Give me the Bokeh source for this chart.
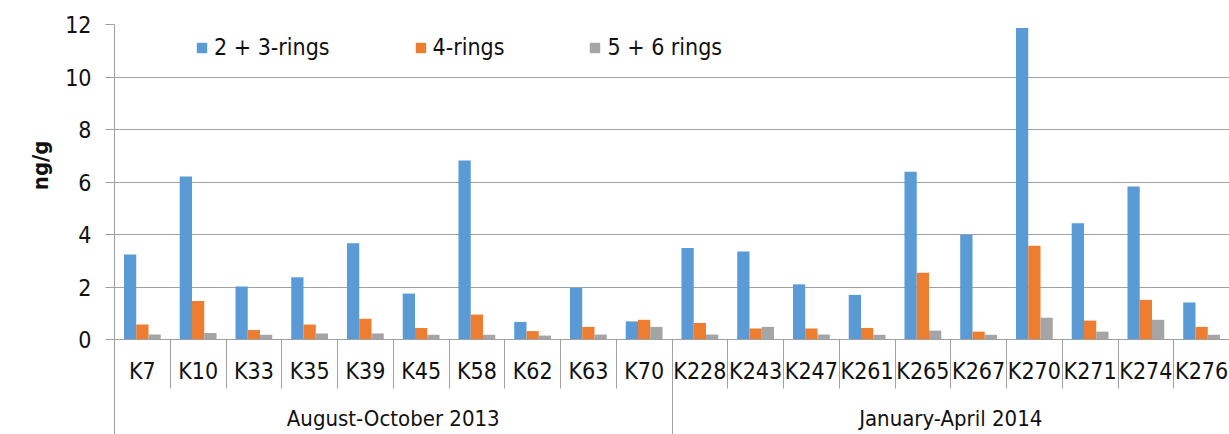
import numpy as np
from bokeh.plotting import figure
from bokeh.models import (Range1d, FixedTicker, LinearAxis, ColumnDataSource,
                          Legend, LegendItem, Title)
from bokeh.transform import dodge
from bokeh.embed import file_html
from bokeh.resources import INLINE

# ---------------- data ----------------
groups = ["August-October 2013", "January-April 2014"]
group_sizes = [10, 10]
categories = ["K7", "K10", "K33", "K35", "K39", "K45", "K58", "K62", "K63", "K70",
              "K228", "K243", "K247", "K261", "K265", "K267", "K270", "K271", "K274", "K276"]
rings_2_3 = [3.24, 6.21, 2.02, 2.37, 3.67, 1.75, 6.82, 0.67, 1.97, 0.69,
             3.49, 3.35, 2.10, 1.70, 6.39, 3.99, 11.87, 4.43, 5.83, 1.41]
rings_4 = [0.57, 1.47, 0.36, 0.57, 0.79, 0.44, 0.95, 0.32, 0.48, 0.75,
           0.63, 0.42, 0.42, 0.44, 2.54, 0.30, 3.57, 0.72, 1.51, 0.48]
rings_5_6 = [0.19, 0.25, 0.18, 0.23, 0.23, 0.18, 0.18, 0.15, 0.19, 0.48,
             0.19, 0.48, 0.19, 0.18, 0.34, 0.18, 0.83, 0.30, 0.75, 0.18]
series_names = ["2 + 3-rings", "4-rings", "5 + 6 rings"]
y_ticks = [0, 2, 4, 6, 8, 10, 12]
y_label = "ng/g"

# ---------------- style ----------------
FONT = "'DejaVu Sans Condensed', 'DejaVu Sans', sans-serif"
GRAY = "#A0A0A0"
TXT = "#111111"
COLORS = ["#5B9BD5", "#ED7D31", "#A5A5A5"]
BAR_W = 0.22
OFFSETS = [-0.22, 0.0, 0.22]

W, H = 1229, 434
LEFT, TOP = 114, 24
PLOT_H = 315            # pixels from 0 to 12
AXIS_AREA = H - TOP - PLOT_H   # label area below the zero line, inside the frame
CAT_TICK = 49
y_max = 12.0
y_min = -AXIS_AREA * y_max / PLOT_H

n = len(categories)
pos = list(range(n))
src = ColumnDataSource(dict(x=pos, s0=rings_2_3, s1=rings_4, s2=rings_5_6))

p = figure(width=W, height=H,
           x_range=Range1d(-0.5, n - 0.5), y_range=Range1d(y_min, y_max),
           output_backend="svg", toolbar_location=None,
           x_axis_location=None, y_axis_location="left",
           min_border_left=LEFT, min_border_right=0,
           min_border_top=TOP, min_border_bottom=0)
p.outline_line_color = None
p.background_fill_color = "white"
p.border_fill_color = "white"

renderers = []
for i, key in enumerate(["s0", "s1", "s2"]):
    r = p.vbar(x=dodge("x", OFFSETS[i]), top=key, bottom=0, width=BAR_W,
               source=src, fill_color=COLORS[i], line_color=None)
    renderers.append(r)

# grids
for g in p.xgrid:
    g.visible = False
p.ygrid.ticker = FixedTicker(ticks=y_ticks)
p.ygrid.grid_line_color = GRAY
p.ygrid.grid_line_width = 1

# y axis
ya = p.yaxis[0]
ya.ticker = FixedTicker(ticks=y_ticks)
ya.axis_line_color = GRAY
ya.major_tick_line_color = GRAY
ya.major_tick_out = 9
ya.major_tick_in = 0
ya.minor_tick_line_color = None
ya.major_label_standoff = 14
ya.major_label_text_font = FONT
ya.major_label_text_font_size = "23px"
ya.major_label_text_color = TXT

p.add_layout(Title(text=y_label, align="right", offset=116, standoff=20,
                   text_font=FONT, text_font_size="22px", text_font_style="bold",
                   text_color=TXT), "left")

# x axis: category row (drawn at y = 0)
bounds = [i - 0.5 for i in range(n + 1)]
ax1 = LinearAxis(ticker=FixedTicker(ticks=pos, minor_ticks=bounds),
                 fixed_location=0,
                 major_label_overrides={i: c for i, c in enumerate(categories)},
                 major_tick_in=0, major_tick_out=0, major_tick_line_color=None,
                 minor_tick_in=0, minor_tick_out=CAT_TICK, minor_tick_line_color=GRAY,
                 axis_line_color=GRAY,
                 major_label_standoff=18 - CAT_TICK,
                 major_label_text_font=FONT, major_label_text_font_size="23px",
                 major_label_text_color=TXT)
p.add_layout(ax1, "below")

# x axis: group row (drawn at y = 0)
starts = np.cumsum([0] + group_sizes[:-1])
g_centers = [float(s + sz / 2 - 0.5) for s, sz in zip(starts, group_sizes)]
g_bounds = [float(s - 0.5) for s in starts] + [n - 0.5]
ax2 = LinearAxis(ticker=FixedTicker(ticks=g_centers, minor_ticks=g_bounds),
                 fixed_location=0,
                 major_label_overrides={c: g for c, g in zip(g_centers, groups)},
                 major_tick_in=0, major_tick_out=0, major_tick_line_color=None,
                 minor_tick_in=0, minor_tick_out=AXIS_AREA, minor_tick_line_color=GRAY,
                 axis_line_color=None,
                 major_label_standoff=66 - AXIS_AREA,
                 major_label_text_font=FONT, major_label_text_font_size="22px",
                 major_label_text_color=TXT)
p.add_layout(ax2, "below")

legend = Legend(items=[LegendItem(label=nm, renderers=[r]) for nm, r in zip(series_names, renderers)],
                orientation="horizontal", location=(81, 374),
                glyph_width=13, glyph_height=13, label_standoff=6, spacing=84,
                padding=0, margin=0, background_fill_alpha=0, border_line_color=None,
                label_text_font=FONT, label_text_font_size="23px", label_text_color=TXT)
p.add_layout(legend)

open("out.html", "w").write(file_html(p, INLINE))
